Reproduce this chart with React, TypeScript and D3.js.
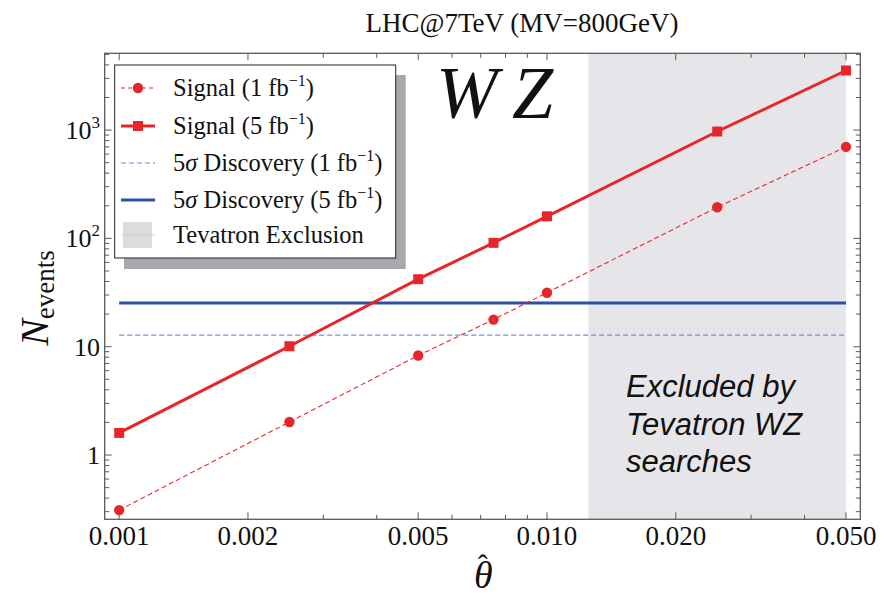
import React from "react";
import * as d3 from "d3";

const thetas = [0.001, 0.0025, 0.005, 0.0075, 0.01, 0.025, 0.05];
const signal5 = [1.6, 10.1, 42, 91, 160, 970, 3550];
const signal1 = [0.31, 2.02, 8.3, 17.8, 31.5, 194, 700];
const discovery5 = 25.3;
const discovery1 = 12.8;
const exclusionRange = [0.0125, 0.05];
const xTickLabels = [
  { v: 0.001, t: "0.001" },
  { v: 0.002, t: "0.002" },
  { v: 0.005, t: "0.005" },
  { v: 0.01, t: "0.010" },
  { v: 0.02, t: "0.020" },
  { v: 0.05, t: "0.050" },
];
const yTickLabels = [
  { v: 1, base: "1", sup: "" },
  { v: 10, base: "10", sup: "" },
  { v: 100, base: "10", sup: "2" },
  { v: 1000, base: "10", sup: "3" },
];
const legendLabels = [
  { pre: "Signal (1 fb", sigma: false },
  { pre: "Signal (5 fb", sigma: false },
  { pre: " Discovery (1 fb", sigma: true },
  { pre: " Discovery (5 fb", sigma: true },
];
const annotationLines = ["Excluded by", "Tevatron WZ", "searches"];

const W = 888;
const H = 599;
const L = 104.7, R = 860.3, T = 53.3, B = 519.3;

const RED = "#e8262a";
const BLUE = "#2d4ea3";
const LBLUE = "#6f8fd6";
const SHADE = "#e6e6ea";
const FRAME = "#5a5a5a";
const SERIF = "'Liberation Serif', 'Times New Roman', serif";
const SANS = "'Liberation Sans', Arial, sans-serif";

export default function App() {
  const x = d3.scaleLog().domain([0.000925, 0.054]).range([L, R]);
  const y = d3.scaleLog().domain([0.255, 5117]).range([B, T]);

  const xMinor: number[] = [];
  for (let e = -4; e <= -1; e++) {
    for (let m = 1; m <= 9; m++) {
      const v = m * Math.pow(10, e);
      if (v >= 0.000925 && v <= 0.054) xMinor.push(v);
    }
  }
  const yMinor: number[] = [];
  for (let e = -1; e <= 3; e++) {
    for (let m = 1; m <= 9; m++) {
      const v = m * Math.pow(10, e);
      if (v >= 0.255 && v <= 5117) yMinor.push(v);
    }
  }
  const isXMajor = (v: number) => xTickLabels.some((d) => Math.abs(d.v - v) / v < 1e-6);
  const isYMajor = (v: number) => [1, 10, 100, 1000].some((d) => Math.abs(d - v) / v < 1e-6);

  const line = d3
    .line<number>()
    .x((_, i) => x(thetas[i]))
    .y((d) => y(d));

  const legendRows = [88, 126, 163, 200, 235];
  const lx0 = 121, lx1 = 155, ltx = 173;

  return (
    <svg
      width={W}
      height={H}
      style={{ position: "absolute", left: 0, top: 0, background: "#fff" }}
    >
      {/* Title */}
      <text x={522} y={32} textAnchor="middle" fontFamily={SERIF} fontSize={27} fill="#111">
        LHC@7TeV (MV=800GeV)
      </text>

      {/* Exclusion shading */}
      <rect
        x={x(exclusionRange[0])}
        y={T}
        width={x(exclusionRange[1]) - x(exclusionRange[0])}
        height={B - T}
        fill={SHADE}
      />

      {/* Discovery lines */}
      <line
        x1={x(thetas[0])}
        x2={x(thetas[thetas.length - 1])}
        y1={y(discovery1)}
        y2={y(discovery1)}
        stroke={LBLUE}
        strokeWidth={1.1}
        strokeDasharray="5,3"
      />
      <line
        x1={x(thetas[0])}
        x2={x(thetas[thetas.length - 1])}
        y1={y(discovery5)}
        y2={y(discovery5)}
        stroke={BLUE}
        strokeWidth={3}
      />

      {/* Signal lines */}
      <path d={line(signal1) || ""} fill="none" stroke={RED} strokeWidth={1.1} strokeDasharray="5,3" />
      {signal1.map((v, i) => (
        <circle key={"c" + i} cx={x(thetas[i])} cy={y(v)} r={5.2} fill={RED} />
      ))}
      <path d={line(signal5) || ""} fill="none" stroke={RED} strokeWidth={3} />
      {signal5.map((v, i) => (
        <rect key={"s" + i} x={x(thetas[i]) - 5} y={y(v) - 5} width={10} height={10} fill={RED} />
      ))}

      {/* Frame */}
      <rect x={L} y={T} width={R - L} height={B - T} fill="none" stroke={FRAME} strokeWidth={1.3} />

      {/* X ticks */}
      {xMinor.map((v, i) => {
        const len = isXMajor(v) ? 7 : 4.5;
        const px = x(v);
        return (
          <g key={"xt" + i} stroke={FRAME} strokeWidth={1}>
            <line x1={px} x2={px} y1={B} y2={B - len} />
            <line x1={px} x2={px} y1={T} y2={T + len} />
          </g>
        );
      })}
      {xTickLabels.map((d, i) => (
        <text
          key={"xl" + i}
          x={x(d.v)}
          y={545}
          textAnchor="middle"
          fontFamily={SERIF}
          fontSize={27}
          fill="#111"
        >
          {d.t}
        </text>
      ))}

      {/* Y ticks */}
      {yMinor.map((v, i) => {
        const len = isYMajor(v) ? 7 : 4.5;
        const py = y(v);
        return (
          <g key={"yt" + i} stroke={FRAME} strokeWidth={1}>
            <line x1={L} x2={L + len} y1={py} y2={py} />
            <line x1={R} x2={R - len} y1={py} y2={py} />
          </g>
        );
      })}
      {yTickLabels.map((d, i) => (
        <text
          key={"yl" + i}
          x={100}
          y={y(d.v) + 9}
          textAnchor="end"
          fontFamily={SERIF}
          fontSize={26}
          fill="#111"
        >
          {d.base}
          {d.sup ? (
            <tspan fontSize={17} dy={-11}>
              {d.sup}
            </tspan>
          ) : null}
        </text>
      ))}

      {/* Axis labels */}
      <text
        transform="translate(48,298) rotate(-90)"
        textAnchor="middle"
        fontFamily={SERIF}
        fill="#111"
      >
        <tspan fontStyle="italic" fontSize={40}>N</tspan>
        <tspan fontSize={27} dy={6}>events</tspan>
      </text>
      <text x={474} y={588} fontFamily={SERIF} fontStyle="italic" fontSize={38} fill="#111">
        θ
        <tspan fontStyle="normal" fontSize={30} dx={-15} dy={-13}>ˆ</tspan>
      </text>

      {/* WZ label */}
      <text x={436} y={118} fontFamily={SERIF} fontStyle="italic" fontSize={74} fill="#111">
        W
      </text>
      <text x={512} y={118} fontFamily={SERIF} fontStyle="italic" fontSize={74} fill="#111">
        Z
      </text>

      {/* Exclusion annotation */}
      {annotationLines.map((t, i) => (
        <text
          key={"ex" + i}
          x={626}
          y={397 + i * 37.5}
          fontFamily={SANS}
          fontStyle="italic"
          fontSize={31}
          fill="#111"
        >
          {t}
        </text>
      ))}

      {/* Legend */}
      <rect x={124} y={75} width={281.7} height={194} fill="#a9a9ad" />
      <rect x={114.7} y={65} width={281} height={193} fill="#fff" stroke="#222" strokeWidth={1} />
      <line x1={lx0} x2={lx1} y1={legendRows[0]} y2={legendRows[0]} stroke={RED} strokeWidth={1.1} strokeDasharray="4,3" />
      <circle cx={(lx0 + lx1) / 2} cy={legendRows[0]} r={5.2} fill={RED} />
      <line x1={lx0} x2={lx1} y1={legendRows[1]} y2={legendRows[1]} stroke={RED} strokeWidth={3} />
      <rect x={(lx0 + lx1) / 2 - 5} y={legendRows[1] - 5} width={10} height={10} fill={RED} />
      <line x1={lx0} x2={lx1} y1={legendRows[2]} y2={legendRows[2]} stroke={LBLUE} strokeWidth={1.1} strokeDasharray="5,3" />
      <line x1={lx0} x2={lx1} y1={legendRows[3]} y2={legendRows[3]} stroke={BLUE} strokeWidth={3} />
      <rect x={123} y={legendRows[4] - 13} width={29} height={26} fill="#dcdcde" />
      <line x1={lx0} x2={lx1} y1={legendRows[4]} y2={legendRows[4]} stroke="#cfcfd2" strokeWidth={1} />

      {legendLabels.map((d, i) => (
        <text key={"lt" + i} x={ltx} y={legendRows[i] + 8} fontFamily={SERIF} fontSize={24.5} fill="#111">
          {d.sigma ? <tspan>5</tspan> : null}
          {d.sigma ? <tspan fontStyle="italic">σ</tspan> : null}
          <tspan>{d.pre}</tspan>
          <tspan fontSize={16} dy={-10}>−1</tspan>
          <tspan dy={10}>)</tspan>
        </text>
      ))}
      <text x={ltx} y={legendRows[4] + 8} fontFamily={SERIF} fontSize={24.5} fill="#111">
        Tevatron Exclusion
      </text>
    </svg>
  );
}
